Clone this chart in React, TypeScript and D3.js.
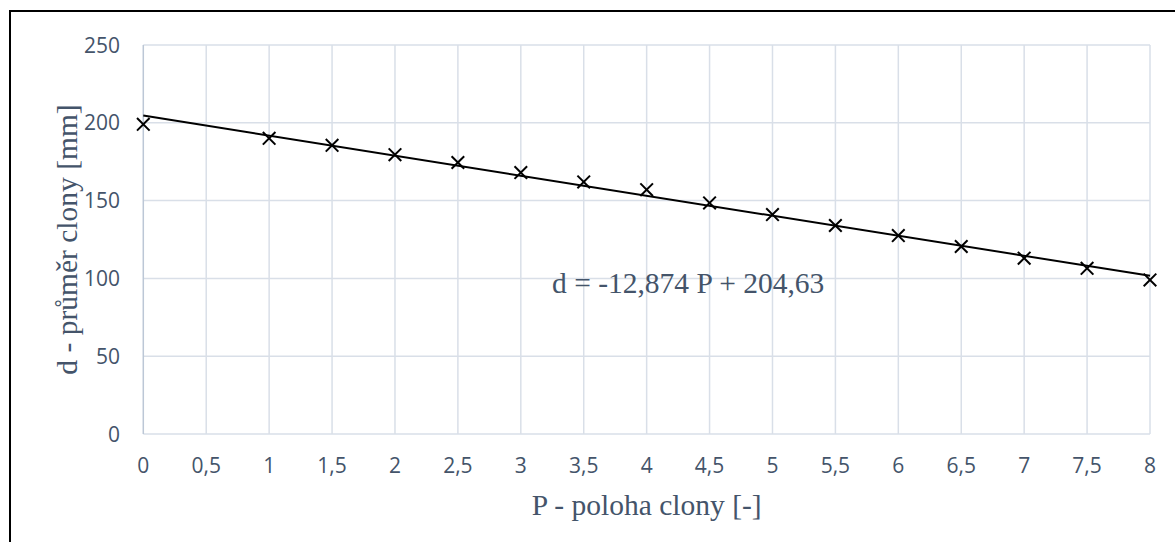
import React from "react";
import * as d3 from "d3";

const positions: number[] = [0, 1, 1.5, 2, 2.5, 3, 3.5, 4, 4.5, 5, 5.5, 6, 6.5, 7, 7.5, 8];
const diameters: number[] = [199, 190, 185.5, 179.5, 174.5, 168, 162, 157, 148.5, 141, 134, 127.5, 120.5, 113, 106.5, 99];
const trendSlope = -12.874;
const trendIntercept = 204.63;
const xTicks: number[] = [0, 0.5, 1, 1.5, 2, 2.5, 3, 3.5, 4, 4.5, 5, 5.5, 6, 6.5, 7, 7.5, 8];
const yTicks: number[] = [0, 50, 100, 150, 200, 250];
const xTitle = "P - poloha clony [-]";
const yTitle = "d - průměr clony [mm]";
const equationText = "d = -12,874 P + 204,63";

const W = 1175;
const H = 542;
const plot = { left: 143.3, right: 1150, top: 45, bottom: 434 };
const textColor = "#44546A";
const gridColor = "#d9dfe8";
const sans = "'Open Sans', sans-serif";
const serif = "'Liberation Serif', 'Times New Roman', serif";

const fmt = (v: number) => String(v).replace(".", ",");

export default function App() {
  const x = d3.scaleLinear().domain([0, 8]).range([plot.left, plot.right]);
  const y = d3.scaleLinear().domain([0, 250]).range([plot.bottom, plot.top]);
  const trend = d3
    .line<number>()
    .x((p) => x(p))
    .y((p) => y(trendSlope * p + trendIntercept));
  const m = 6.3;
  return (
    <svg
      width={W}
      height={H}
      style={{ position: "absolute", left: 0, top: 0, background: "#fff" }}
    >
      <rect x={0} y={0} width={W} height={H} fill="#fff" />
      <rect x={10} y={11} width={W + 20} height={H + 20} fill="none" stroke="#000" strokeWidth={2} />
      {yTicks.map((t) => (
        <line key={"hy" + t} x1={plot.left} x2={plot.right} y1={y(t)} y2={y(t)} stroke={gridColor} strokeWidth={1.5} />
      ))}
      {xTicks.map((t) => (
        <line key={"vx" + t} x1={x(t)} x2={x(t)} y1={plot.top} y2={plot.bottom} stroke={t === 0 ? "#bcc7d6" : gridColor} strokeWidth={1.5} />
      ))}
      {yTicks.map((t) => (
        <text key={"ty" + t} x={120} y={y(t)} dy="0.36em" textAnchor="end" fontFamily={sans} fontSize={21} fill={textColor}>
          {fmt(t)}
        </text>
      ))}
      {xTicks.map((t) => (
        <text key={"tx" + t} x={x(t)} y={473} textAnchor="middle" fontFamily={sans} fontSize={21} fill={textColor}>
          {fmt(t)}
        </text>
      ))}
      <path d={trend([0, 8]) || ""} fill="none" stroke="#000" strokeWidth={2} />
      {positions.map((p, i) => {
        const cx = x(p);
        const cy = y(diameters[i]);
        return (
          <g key={"m" + i} stroke="#000" strokeWidth={2}>
            <line x1={cx - m} y1={cy - m} x2={cx + m} y2={cy + m} />
            <line x1={cx - m} y1={cy + m} x2={cx + m} y2={cy - m} />
          </g>
        );
      })}
      <text x={552} y={293} fontFamily={serif} fontSize={29.5} fill={textColor}>
        {equationText}
      </text>
      <text x={(plot.left + plot.right) / 2} y={515} textAnchor="middle" fontFamily={serif} fontSize={29.5} fill={textColor}>
        {xTitle}
      </text>
      <text
        transform={`translate(77, ${(plot.top + plot.bottom) / 2}) rotate(-90)`}
        textAnchor="middle"
        fontFamily={serif}
        fontSize={29.5}
        fill={textColor}
      >
        {yTitle}
      </text>
    </svg>
  );
}
